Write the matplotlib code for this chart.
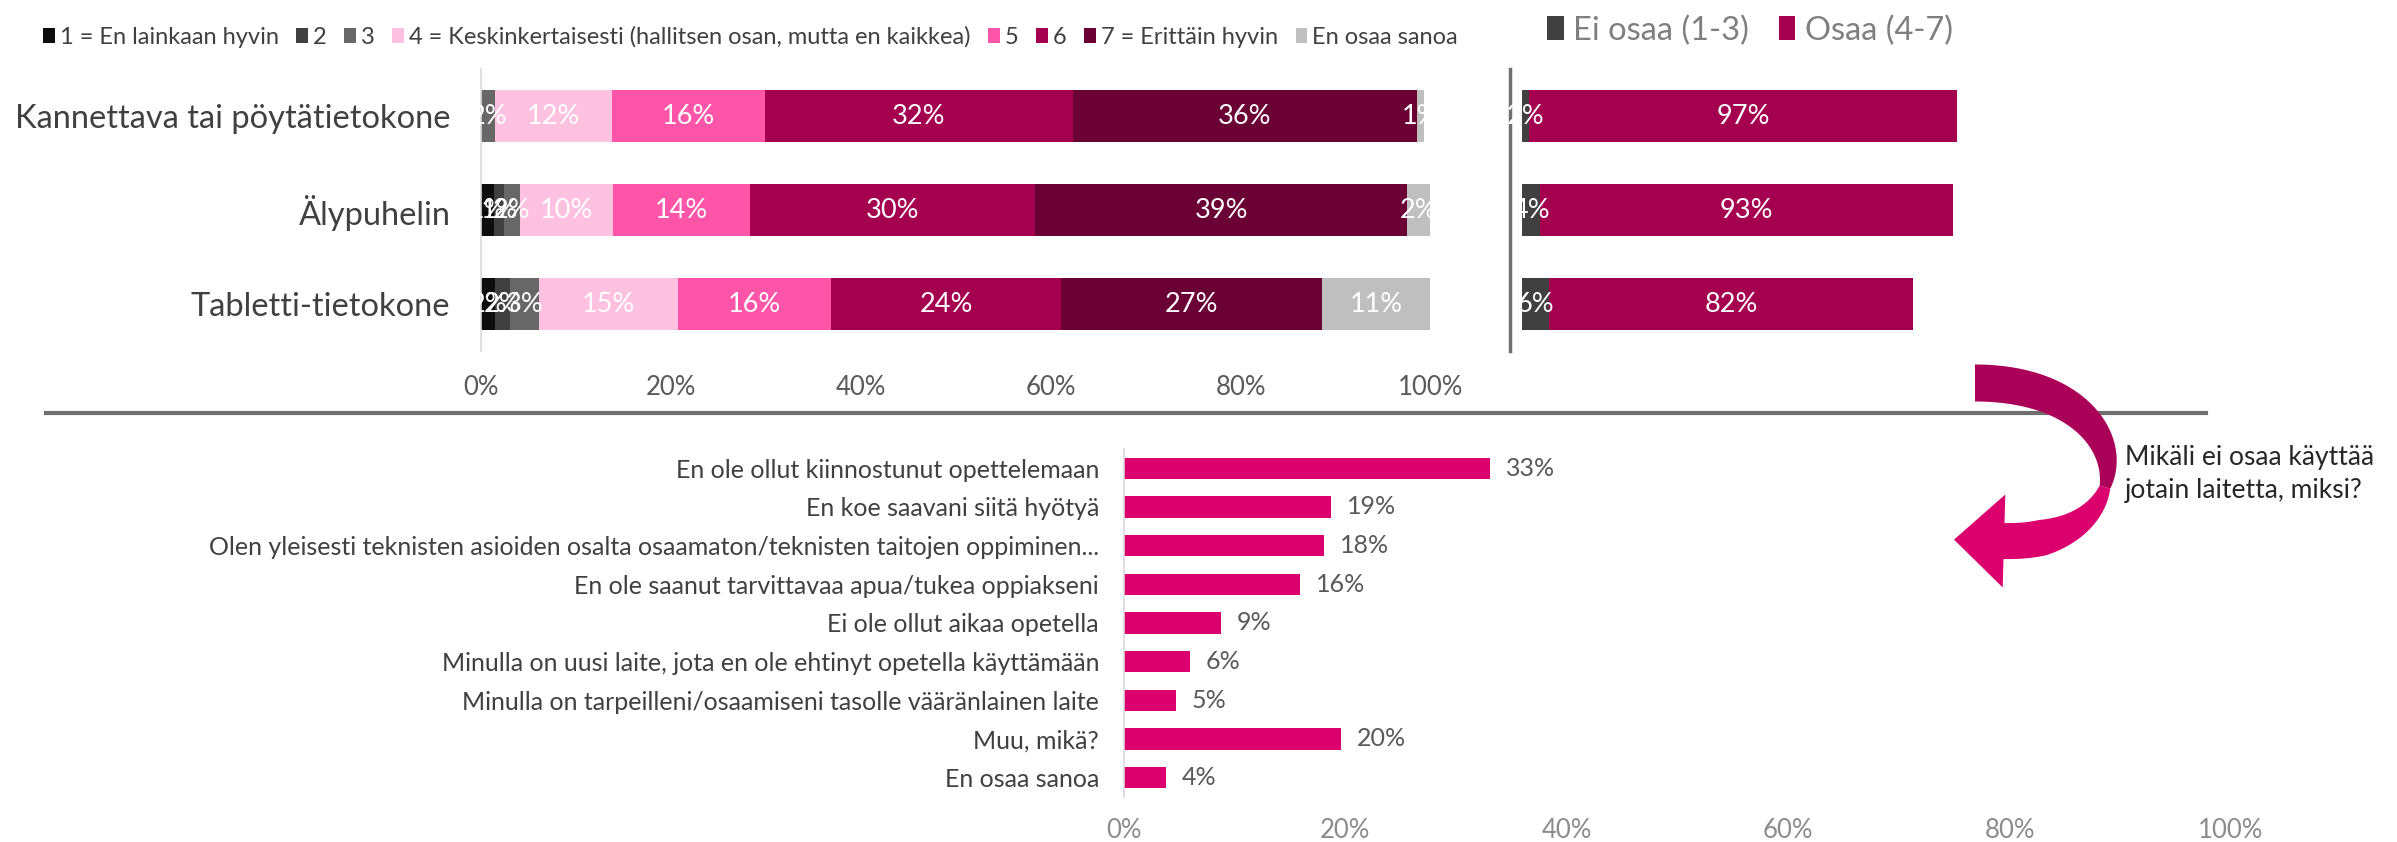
import numpy as np
import matplotlib
matplotlib.use("Agg")
import matplotlib.pyplot as plt
from matplotlib.patches import Patch, Polygon

# ---------------- data ----------------
devices = ["Kannettava tai pöytätietokone", "Älypuhelin", "Tabletti-tietokone"]
scale_labels = ["1 = En lainkaan hyvin", "2", "3",
                "4 = Keskinkertaisesti (hallitsen osan, mutta en kaikkea)",
                "5", "6", "7 = Erittäin hyvin", "En osaa sanoa"]
v1 = [0.0, 1.4, 1.5]
v2 = [0.0, 1.0, 1.5]
v3 = [1.5, 1.7, 3.1]
v4 = [12.3, 9.8, 14.6]
v5 = [16.1, 14.4, 16.1]
v6 = [32.4, 30.0, 24.3]
v7 = [36.2, 39.2, 27.4]
v_eos = [0.8, 2.4, 11.4]

group_labels = ["Ei osaa (1-3)", "Osaa (4-7)"]

reasons = ["En ole ollut kiinnostunut opettelemaan",
           "En koe saavani siitä hyötyä",
           "Olen yleisesti teknisten asioiden osalta osaamaton/teknisten taitojen oppiminen...",
           "En ole saanut tarvittavaa apua/tukea oppiakseni",
           "Ei ole ollut aikaa opetella",
           "Minulla on uusi laite, jota en ole ehtinyt opetella käyttämään",
           "Minulla on tarpeilleni/osaamiseni tasolle vääränlainen laite",
           "Muu, mikä?",
           "En osaa sanoa"]
reason_vals = [33.1, 18.7, 18.1, 15.9, 8.8, 6.0, 4.7, 19.6, 3.8]

xticks = [0, 20, 40, 60, 80, 100]
annotation = "Mikäli ei osaa käyttää\njotain laitetta, miksi?"

# ---------------- style ----------------
seg_colors = ["#0d0d0d", "#404040", "#676767", "#ffc1e0",
              "#ff55a8", "#a5004f", "#6b0035", "#bfbfbf"]
grp_colors = ["#404040", "#a5004f"]
bar_pink = "#dc006e"

plt.rcParams["font.family"] = ["Lato", "DejaVu Sans"]

W, H = 2397, 842
DPI = 100
fig = plt.figure(figsize=(W / DPI, H / DPI), dpi=DPI)

def rect(left, top, width, height):
    return [left / W, 1 - (top + height) / H, width / W, height / H]

# ---------------- top-left stacked chart ----------------
ax1 = fig.add_axes(rect(481, 69, 950, 282))
series = [v1, v2, v3, v4, v5, v6, v7, v_eos]
y = np.arange(len(devices))
left = np.zeros(len(devices))
for vals, col in zip(series, seg_colors):
    vals = np.array(vals)
    ax1.barh(y, vals, left=left, height=0.55, color=col, edgecolor="none")
    for yi, (l, v) in enumerate(zip(left, vals)):
        if v > 0:
            ax1.text(l + v / 2, yi, f"{v:.0f}%", ha="center", va="center",
                     color="white", fontsize=19.5)
    left = left + vals
ax1.set_xlim(0, 100)
ax1.set_ylim(len(devices) - 0.5, -0.5)
ax1.set_yticks(y)
ax1.set_yticklabels(devices, fontsize=23.5, color="#404040")
ax1.set_xticks(xticks)
ax1.set_xticklabels([f"{t}%" for t in xticks], fontsize=18.5, color="#595959")
ax1.tick_params(axis="both", length=0)
ax1.tick_params(axis="x", pad=17)
ax1.tick_params(axis="y", pad=22)
for s in ["top", "right", "bottom"]:
    ax1.spines[s].set_visible(False)
ax1.spines["left"].set_color("#d9d9d9")
ax1.spines["left"].set_linewidth(1.2)

handles = [Patch(facecolor=c, edgecolor="none") for c in seg_colors]
fig.legend(handles, scale_labels, loc="upper left", bbox_to_anchor=(22 / W, 1 - 5 / H),
           ncol=8, frameon=False, fontsize=17, handlelength=0.5, handleheight=0.65,
           handletextpad=0.2, columnspacing=0.75, labelcolor="#404040")

# ---------------- top-right grouped chart ----------------
ax2 = fig.add_axes(rect(1522, 69, 442, 282))
g_no = np.array(v1) + np.array(v2) + np.array(v3)
g_yes = np.array(v4) + np.array(v5) + np.array(v6) + np.array(v7)
left = np.zeros(len(devices))
for vals, col in zip([g_no, g_yes], grp_colors):
    ax2.barh(y, vals, left=left, height=0.55, color=col, edgecolor="none")
    for yi, (l, v) in enumerate(zip(left, vals)):
        ax2.text(l + v / 2, yi, f"{v:.0f}%", ha="center", va="center",
                 color="white", fontsize=19.5)
    left = left + vals
ax2.set_xlim(0, 100)
ax2.set_ylim(len(devices) - 0.5, -0.5)
ax2.set_xticks([])
ax2.set_yticks([])
for s in ["top", "right", "bottom"]:
    ax2.spines[s].set_visible(False)
ax2.spines["left"].set_position(("outward", 9))
ax2.spines["left"].set_color("#6f6f6f")
ax2.spines["left"].set_linewidth(2.5)

handles2 = [Patch(facecolor=c, edgecolor="none") for c in grp_colors]
fig.legend(handles2, group_labels, loc="upper left", bbox_to_anchor=(1518 / W, 1 + 14 / H),
           ncol=2, frameon=False, fontsize=23.5, handlelength=0.5, handleheight=0.75,
           handletextpad=0.3, columnspacing=0.9, labelcolor="#7f7f7f")

# ---------------- separator ----------------
fig.add_artist(plt.Line2D([46 / W, 2206 / W], [1 - 413 / H, 1 - 413 / H],
                          transform=fig.transFigure, color="#6f6f6f", linewidth=3))

# ---------------- bottom chart ----------------
ax3 = fig.add_axes(rect(1124, 449, 1107, 348))
yb = np.arange(len(reasons))
ax3.barh(yb, reason_vals, height=0.56, color=bar_pink, edgecolor="none")
for yi, v in enumerate(reason_vals):
    ax3.text(v + 1.4, yi, f"{v:.0f}%", ha="left", va="center", color="#595959", fontsize=18)
ax3.set_xlim(0, 100)
ax3.set_ylim(len(reasons) - 0.5, -0.5)
ax3.set_yticks(yb)
ax3.set_yticklabels(reasons, fontsize=18, color="#404040")
ax3.set_xticks(xticks)
ax3.set_xticklabels([f"{t}%" for t in xticks], fontsize=18.5, color="#8c8c8c")
ax3.tick_params(axis="both", length=0)
ax3.tick_params(axis="x", pad=15)
ax3.tick_params(axis="y", pad=18)
for s in ["top", "right", "bottom"]:
    ax3.spines[s].set_visible(False)
ax3.spines["left"].set_color("#d9d9d9")
ax3.spines["left"].set_linewidth(1.2)

# ---------------- curved twisted arrow (decoration) + annotation ----------------
axa = fig.add_axes([0, 0, 1, 1], zorder=10)
axa.set_xlim(0, W)
axa.set_ylim(H, 0)
axa.axis("off")

P = np.array([[1975, 383], [2145, 383], [2148, 545], [2004, 541]], dtype=float)
def bez(t):
    t = np.asarray(t)[:, None]
    return ((1 - t) ** 3) * P[0] + 3 * ((1 - t) ** 2) * t * P[1] + 3 * (1 - t) * t ** 2 * P[2] + t ** 3 * P[3]
def dbez(t):
    t = np.asarray(t)[:, None]
    return 3 * ((1 - t) ** 2) * (P[1] - P[0]) + 6 * (1 - t) * t * (P[2] - P[1]) + 3 * t ** 2 * (P[3] - P[2])

tw = 0.6
def width(t):
    t = np.asarray(t)
    top = 11 + 26 * (1 - (t / tw) ** 2)
    bot = 11 + 25 * np.clip((t - tw) / 0.3, 0, 1)
    return np.where(t <= tw, top, bot)

def ribbon(t):
    c = bez(t)
    d = dbez(t)
    d = d / np.linalg.norm(d, axis=1)[:, None]
    n = np.stack([-d[:, 1], d[:, 0]], axis=1)
    w = width(t)[:, None] / 2
    return c + n * w, c - n * w, d, n

t1 = np.linspace(0, tw, 120)
lft, rgt, _, _ = ribbon(t1)
axa.add_patch(Polygon(np.vstack([lft, rgt[::-1]]), closed=True, facecolor="#ab0057",
                      edgecolor="none"))
t2 = np.linspace(tw, 1, 100)
lft, rgt, d, n = ribbon(t2)
end, de, ne = P[3], d[-1], n[-1]
head = np.array([end + ne * 46.5, end + de * 50, end - ne * 46.5])
axa.add_patch(Polygon(np.vstack([lft, head, rgt[::-1]]), closed=True, facecolor="#dc006e",
                      edgecolor="none"))

fig.text(2125 / W, 1 - 474 / H, annotation, ha="left", va="center", fontsize=19,
         color="#262626", linespacing=1.4)

fig.savefig("out.png", dpi=DPI)
